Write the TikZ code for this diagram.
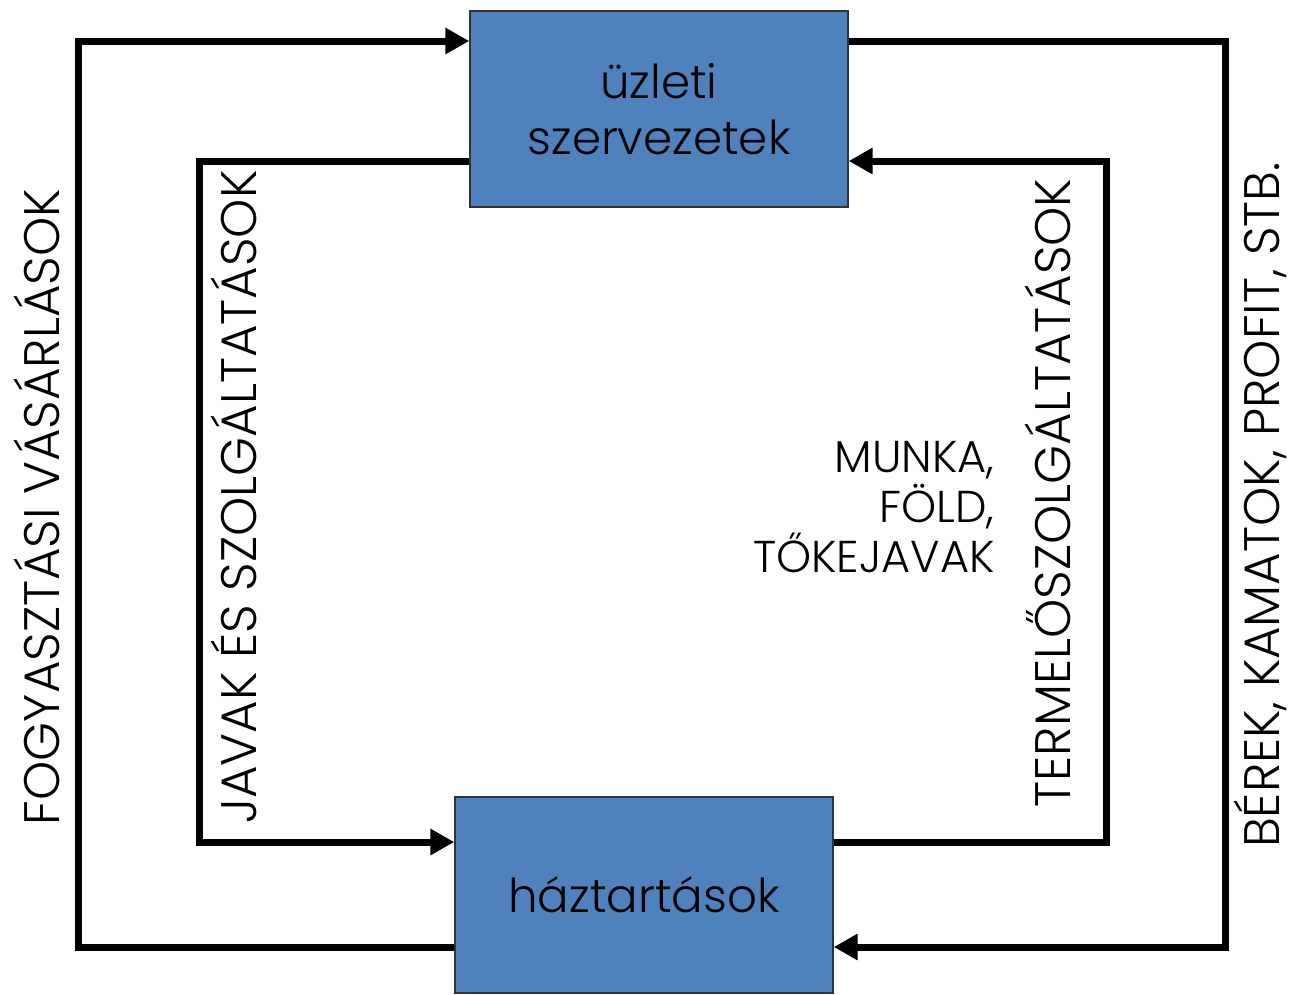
\documentclass[tikz,border=0pt]{standalone}
\usepackage{fontspec}
\setmainfont{Poppins Light}
\usetikzlibrary{arrows.meta,positioning}
\definecolor{boxblue}{RGB}{79,129,189}
\begin{document}
\begin{tikzpicture}
	[x=0.02cm,y=-0.02cm,
	sector/.style={shape=rectangle,draw=black!80,line width=0.8pt,fill=boxblue,minimum width=7.56cm,minimum height=3.92cm,align=center,font=\fontsize{26.6}{32}\selectfont},
	flow/.style={line width=0.14cm,line join=miter,-{Triangle[length=0.48cm,width=0.5cm]}},
	side label/.style={rotate=90,anchor=base,inner sep=0pt,font=\fontsize{28.4}{34}\selectfont}
	]
	\useasboundingbox (0,0) rectangle (1291,994);

	\node [sector] (uzl) at (659,109) {üzleti\\szervezetek};
	\node [sector] (haz) at (644,895) {háztartások};

	\coordinate (olt) at (78,41);
	\coordinate (olb) at (78,947);
	\coordinate (ort) at (1225,41);
	\coordinate (orb) at (1225,947);
	\coordinate (ilt) at (199,161);
	\coordinate (ilb) at (199,842);
	\coordinate (irt) at (1106,161);
	\coordinate (irb) at (1106,842);

	\draw[flow] (haz.west |- olb) -- (olb) -- (olt) -- (uzl.west |- olt);
	\draw[flow] (uzl.east |- ort) -- (ort) -- (orb) -- (haz.east |- orb);
	\draw[flow] (uzl.west |- ilt) -- (ilt) -- (ilb) -- (haz.west |- ilb);
	\draw[flow] (haz.east |- irb) -- (irb) -- (irt) -- (uzl.east |- irt);

	\node [side label] (fogy) at (59,507) {FOGYASZTÁSI VÁSÁRLÁSOK};
	\node [side label] (javak) at (256,497) {JAVAK ÉS SZOLGÁLTATÁSOK};
	\node [side label] (term) at (1070,493) {TERMELŐSZOLGÁLTATÁSOK};
	\node [side label] (berek) at (1279,505) {BÉREK, KAMATOK, PROFIT, STB.};
	\node [align=right,anchor=east,inner sep=0pt,font=\fontsize{25.4}{28.5}\selectfont] (munka) at (995,507) {MUNKA,\\FÖLD,\\TŐKEJAVAK};

\end{tikzpicture}
\end{document}
